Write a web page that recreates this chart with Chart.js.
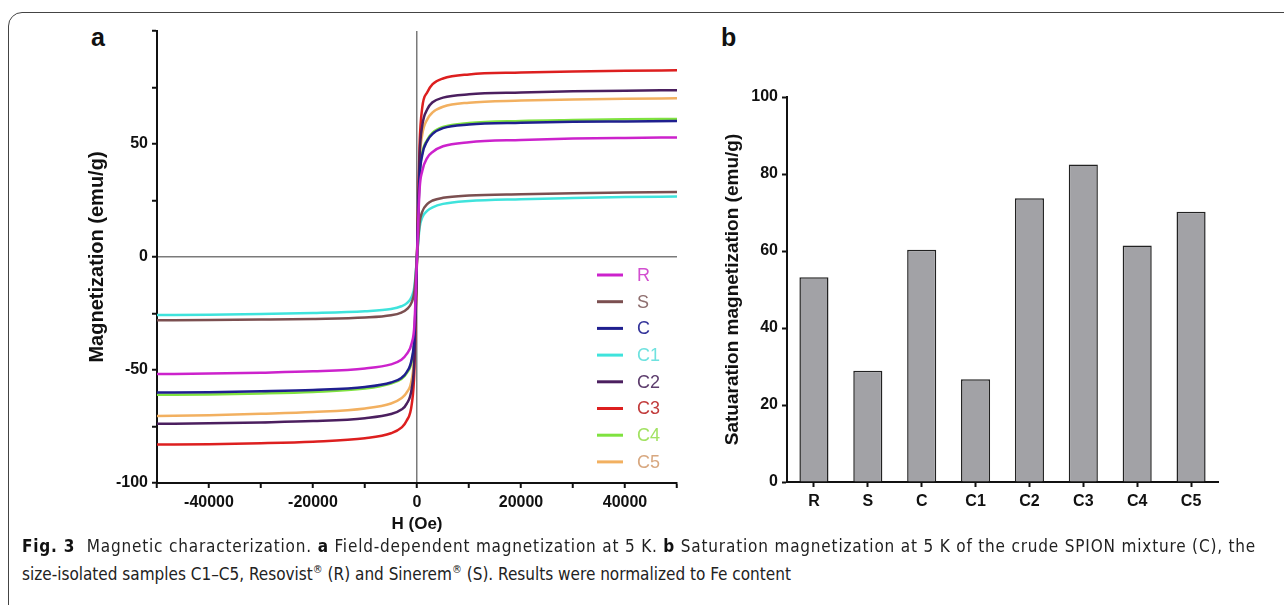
<!DOCTYPE html>
<html>
<head>
<meta charset="utf-8">
<script src="https://cdn.jsdelivr.net/npm/chart.js@4.4.1/dist/chart.umd.min.js"></script>
<style>
  body { margin: 0; width: 1284px; height: 605px; background: #fff; overflow: hidden; position: relative; font-family: "Liberation Sans", Arial, sans-serif; }
  .frame { position: absolute; left: 8px; top: 12px; width: 1320px; height: 640px; border: 1.5px solid #444; border-radius: 14px; }
  .panel-label { position: absolute; font-weight: bold; font-size: 25px; color: #111; }
  #chartA { position: absolute; left: 0; top: 0; }
  #chartB { position: absolute; left: 700px; top: 0; }
  .caption { position: absolute; left: 22px; font-family: "Liberation Sans Narrow", "DejaVu Sans Condensed", sans-serif; font-size: 17px; line-height: 28px; color: #222; white-space: nowrap; }
  .caption.first { top: 532px; letter-spacing: 0.82px; }
  .caption.second { top: 560px; }
  .caption b { color: #111; }
  .caption sup { font-size: 11px; line-height: 0; }
</style>
</head>
<body>
<div class="frame"></div>
<div class="panel-label" style="left:91px; top:23px;">a</div>
<div class="panel-label" style="left:721px; top:23px;">b</div>
<canvas id="chartA" width="700" height="540"></canvas>
<canvas id="chartB" width="584" height="540"></canvas>
<div class="caption first"><b>Fig. 3</b>&nbsp; Magnetic characterization. <b>a</b> Field-dependent magnetization at 5 K. <b>b</b> Saturation magnetization at 5 K of the crude SPION mixture (C), the</div>
<div class="caption second">size-isolated samples C1–C5, Resovist<sup>®</sup> (R) and Sinerem<sup>®</sup> (S). Results were normalized to Fe content</div>
<script>
// field values (Oe) shared by every curve in panel a
const fieldOe = [-50000, -40000, -30000, -20000, -10000, -5000, -3000, -2000, -1000, -500, 0,
  500, 1000, 2000, 3000, 5000, 10000, 20000, 30000, 40000, 50000];

const sampleNames = ["R", "S", "C", "C1", "C2", "C3", "C4", "C5"];

// magnetization (emu/g)
const magR  = [-51.8, -51.6, -51.2, -50.6, -49.3, -47.5, -45.5, -43.0, -38.0, -30.0, 0, 30.0, 38.0, 44.0, 46.5, 49.0, 50.8, 51.8, 52.4, 52.7, 52.9];
const magS  = [-28.0, -27.9, -27.7, -27.4, -26.8, -25.8, -24.6, -23.2, -20.0, -15.0, 0, 15.0, 20.0, 23.5, 25.0, 26.2, 27.2, 27.8, 28.2, 28.5, 28.8];
const magC  = [-60.0, -59.8, -59.4, -58.8, -57.5, -55.5, -53.5, -51.0, -45.0, -35.0, 0, 35.0, 45.0, 51.5, 54.5, 57.0, 58.6, 59.4, 59.8, 60.0, 60.2];
const magC1 = [-25.7, -25.5, -25.2, -24.8, -24.0, -23.0, -21.8, -20.5, -17.5, -13.0, 0, 13.0, 17.5, 20.5, 22.0, 23.5, 24.8, 25.6, 26.1, 26.5, 26.8];
const magC2 = [-73.8, -73.6, -73.2, -72.6, -71.3, -69.5, -67.5, -65.0, -58.0, -45.0, 0, 45.0, 58.0, 65.5, 68.5, 70.5, 72.0, 72.8, 73.3, 73.6, 73.8];
const magC3 = [-83.0, -82.8, -82.4, -81.7, -80.2, -78.0, -75.5, -72.5, -65.0, -50.0, 0, 50.0, 66.0, 73.0, 76.5, 79.0, 80.8, 81.6, 82.1, 82.4, 82.6];
const magC4 = [-61.0, -60.8, -60.4, -59.7, -58.2, -56.0, -54.0, -51.5, -46.0, -36.0, 0, 36.0, 46.0, 52.0, 55.0, 57.5, 59.3, 60.2, 60.6, 60.9, 61.1];
const magC5 = [-70.4, -70.0, -69.4, -68.6, -67.0, -64.8, -62.5, -60.0, -54.0, -42.0, 0, 42.0, 54.0, 61.0, 64.0, 66.5, 68.3, 69.2, 69.7, 70.0, 70.2];
const magSeries = [magR, magS, magC, magC1, magC2, magC3, magC4, magC5];

// saturation magnetization (emu/g), panel b
const satMag = [53.2, 28.9, 60.3, 26.7, 73.7, 82.5, 61.4, 70.2];

const xTickLabelsA = [-40000, -20000, 0, 20000, 40000];
const yTickLabelsA = [-100, -50, 0, 50];

const lineColors = ["#cc22cc", "#7b4f50", "#1f1f8f", "#3fe3dc", "#4b1f5f", "#dd1f1f", "#7fe23f", "#f2b060"];
const legendTextColors = ["#d24fd0", "#8e6e6e", "#34349a", "#6fe2df", "#5d3d6d", "#c23c3c", "#a2e262", "#d8a880"];

const tickFont = { family: "Liberation Sans", size: 16, weight: "bold" };

// legend drawn inside the plot, lower right
const insideLegend = {
  id: "insideLegend",
  afterDraw(chart) {
    const { ctx, chartArea } = chart;
    ctx.save();
    ctx.font = "18px 'Liberation Sans'";
    ctx.textBaseline = "middle";
    chart.data.datasets.forEach((ds, i) => {
      const y = chartArea.top + 244 + i * 26.7;
      ctx.strokeStyle = ds.borderColor;
      ctx.lineWidth = 3;
      ctx.beginPath();
      ctx.moveTo(chartArea.right - 80, y);
      ctx.lineTo(chartArea.right - 54, y);
      ctx.stroke();
      ctx.fillStyle = legendTextColors[i];
      ctx.fillText(ds.label, chartArea.right - 40, y + 1);
    });
    ctx.restore();
  }
};

new Chart(document.getElementById("chartA"), {
  type: "line",
  data: {
    datasets: sampleNames.map((name, i) => ({
      label: name,
      data: fieldOe.map((h, j) => ({ x: h, y: magSeries[i][j] })),
      borderColor: lineColors[i],
      borderWidth: 2.5,
      pointRadius: 0,
      cubicInterpolationMode: "monotone",
      fill: false
    }))
  },
  options: {
    responsive: false,
    animation: false,
    layout: { padding: { left: 0, right: 23, top: 31, bottom: 0 } },
    plugins: { legend: { display: false }, tooltip: { enabled: false } },
    scales: {
      x: {
        type: "linear",
        min: -50000,
        max: 50000,
        afterFit: (s) => { s.height = 57; },
        ticks: {
          stepSize: 10000,
          autoSkip: false,
          maxRotation: 0,
          padding: 5,
          color: "#111",
          font: tickFont,
          callback: (v) => xTickLabelsA.includes(v) ? String(v) : ""
        },
        grid: {
          drawOnChartArea: true,
          color: (c) => c.tick && c.tick.value === 0 ? "#7a7a7a" : "rgba(0,0,0,0)",
          lineWidth: 1.5,
          tickColor: "#111",
          tickWidth: 2,
          tickLength: 5
        },
        border: { display: true, color: "#111", width: 2 },
        title: { display: true, text: "H (Oe)", color: "#111", font: { family: "Liberation Sans", size: 17, weight: "bold" }, padding: { top: 0, bottom: 5 } }
      },
      y: {
        min: -100,
        max: 100,
        afterFit: (s) => { s.width = 157; },
        ticks: {
          stepSize: 25,
          autoSkip: false,
          padding: 4,
          color: "#111",
          font: tickFont,
          callback: (v) => yTickLabelsA.includes(v) ? String(v) : ""
        },
        grid: {
          drawOnChartArea: true,
          color: (c) => c.tick && c.tick.value === 0 ? "#7a7a7a" : "rgba(0,0,0,0)",
          lineWidth: 1.5,
          tickColor: "#111",
          tickWidth: 2,
          tickLength: 5
        },
        border: { display: true, color: "#111", width: 2 },
        title: { display: true, text: "Magnetization (emu/g)", color: "#111", font: { family: "Liberation Sans", size: 20, weight: "bold" }, padding: { top: 85, bottom: 0 } }
      }
    }
  },
  plugins: [insideLegend]
});

new Chart(document.getElementById("chartB"), {
  type: "bar",
  data: {
    labels: sampleNames,
    datasets: [{
      label: "Saturation magnetization",
      data: satMag,
      backgroundColor: "#a2a2a6",
      borderColor: "#222",
      borderWidth: 1.5,
      categoryPercentage: 1,
      barPercentage: 0.54
    }]
  },
  options: {
    responsive: false,
    animation: false,
    layout: { padding: { left: 0, right: 66, top: 97, bottom: 0 } },
    plugins: { legend: { display: false }, tooltip: { enabled: false } },
    scales: {
      x: {
        afterFit: (s) => { s.height = 58; },
        ticks: { padding: 5, color: "#111", font: tickFont },
        grid: { drawOnChartArea: false, tickColor: "#111", tickWidth: 2, tickLength: 5, offset: false },
        border: { display: true, color: "#111", width: 2 }
      },
      y: {
        min: 0,
        max: 100,
        afterFit: (s) => { s.width = 87; },
        ticks: { stepSize: 20, padding: 4, color: "#111", font: tickFont },
        grid: { drawOnChartArea: false, tickColor: "#111", tickWidth: 2, tickLength: 5 },
        border: { display: true, color: "#111", width: 2 },
        title: { display: true, text: "Satuaration magnetization (emu/g)", color: "#111", font: { family: "Liberation Sans", size: 19, weight: "bold" }, padding: { top: 21, bottom: 0 } }
      }
    }
  }
});
</script>
</body>
</html>
